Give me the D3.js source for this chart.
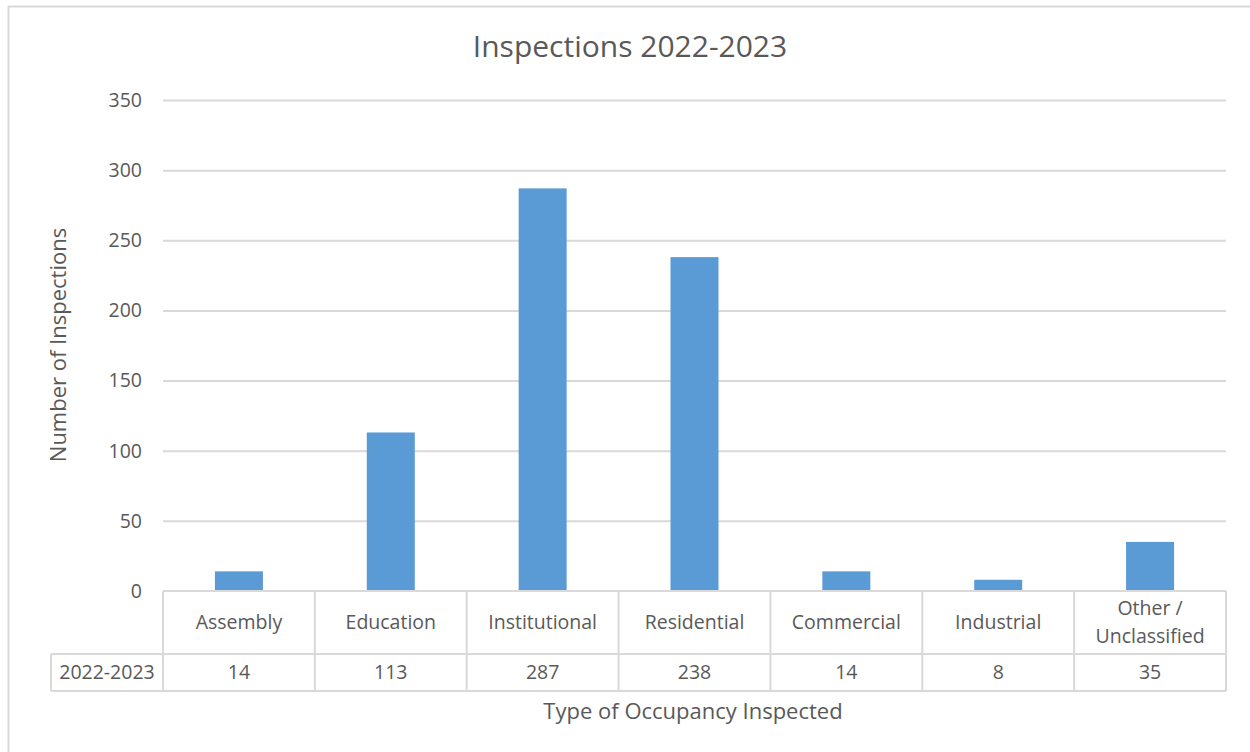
<!DOCTYPE html>
<html>
<head>
<meta charset="utf-8">
<script src="https://cdn.jsdelivr.net/npm/d3@7"></script>
<style>
  body { margin: 0; background: #fff; }
  text { font-family: "Open Sans", Lato, sans-serif; fill: #595959; }
</style>
</head>
<body>
<svg id="chart" width="1250" height="752"></svg>
<script>
// Chart data
var categories = ['Assembly', 'Education', 'Institutional', 'Residential', 'Commercial', 'Industrial', 'Other / Unclassified'];
var values = [14, 113, 287, 238, 14, 8, 35];
var seriesName = '2022-2023';
var yTicks = [0, 50, 100, 150, 200, 250, 300, 350];

var svg = d3.select('#chart');

// outer chart border
svg.append('rect')
    .attr('x', 8.5).attr('y', 6.5)
    .attr('width', 1260).attr('height', 760)
    .attr('fill', 'none')
    .attr('stroke', '#d9d9d9')
    .attr('stroke-width', 2);

var plot = {l: 163, r: 1226, t: 100, b: 591};

var x = d3.scaleBand()
    .domain(categories)
    .range([plot.l, plot.r]);

var y = d3.scaleLinear()
    .domain([0, 350])
    .range([plot.b, plot.t]);

// gridlines
svg.append('g')
    .selectAll('line')
    .data(yTicks.slice(1))
    .enter().append('line')
    .attr('x1', plot.l).attr('x2', plot.r)
    .attr('y1', function(d) { return y(d) + 0.5; })
    .attr('y2', function(d) { return y(d) + 0.5; })
    .attr('stroke', '#d9d9d9')
    .attr('stroke-width', 2);

// y axis tick labels
svg.append('g')
    .selectAll('text')
    .data(yTicks)
    .enter().append('text')
    .attr('x', 142)
    .attr('y', function(d) { return y(d); })
    .attr('dy', '0.35em')
    .attr('text-anchor', 'end')
    .style('font-size', '19.5px')
    .text(function(d) { return d; });

// bars
var barWidth = 48;
svg.append('g')
    .selectAll('rect')
    .data(values)
    .enter().append('rect')
    .attr('x', function(d, i) { return x(categories[i]) + x.bandwidth() / 2 - barWidth / 2; })
    .attr('y', function(d) { return y(d); })
    .attr('width', barWidth)
    .attr('height', function(d) { return y(0) - y(d); })
    .attr('fill', '#5b9bd5');

// data table
var rowTop = plot.b, rowMid = 654, rowBot = 691, labelLeft = 51;
var table = svg.append('g')
    .attr('stroke', '#d9d9d9')
    .attr('stroke-width', 2)
    .attr('fill', 'none');

table.append('line').attr('x1', plot.l).attr('x2', plot.r).attr('y1', rowTop).attr('y2', rowTop);
table.append('line').attr('x1', labelLeft).attr('x2', plot.r).attr('y1', rowMid).attr('y2', rowMid);
table.append('line').attr('x1', labelLeft).attr('x2', plot.r).attr('y1', rowBot).attr('y2', rowBot);
table.append('line').attr('x1', labelLeft).attr('x2', labelLeft).attr('y1', rowMid).attr('y2', rowBot);

var bounds = categories.map(function(c) { return x(c); }).concat([plot.r]);
table.selectAll('.vline')
    .data(bounds)
    .enter().append('line')
    .attr('class', 'vline')
    .attr('x1', function(d) { return d; }).attr('x2', function(d) { return d; })
    .attr('y1', rowTop).attr('y2', rowBot);

// category labels (wrap on " / ")
var catLabels = svg.append('g')
    .selectAll('text')
    .data(categories)
    .enter().append('text')
    .attr('x', function(d) { return x(d) + x.bandwidth() / 2; })
    .attr('text-anchor', 'middle')
    .style('font-size', '19.5px');

catLabels.each(function(d) {
    var parts = d.indexOf(' / ') >= 0 ? [d.split(' / ')[0] + ' /', d.split(' / ')[1]] : [d];
    var t = d3.select(this);
    var cx = x(d) + x.bandwidth() / 2;
    var mid = (rowTop + rowMid) / 2;
    parts.forEach(function(p, k) {
        t.append('tspan')
            .attr('x', cx)
            .attr('y', mid + (k - (parts.length - 1) / 2) * 28)
            .attr('dy', '0.35em')
            .text(p);
    });
});

// values row
svg.append('g')
    .selectAll('text')
    .data(values)
    .enter().append('text')
    .attr('x', function(d, i) { return x(categories[i]) + x.bandwidth() / 2; })
    .attr('y', (rowMid + rowBot) / 2)
    .attr('dy', '0.35em')
    .attr('text-anchor', 'middle')
    .style('font-size', '19.5px')
    .text(function(d) { return d; });

svg.append('text')
    .attr('x', (labelLeft + plot.l) / 2)
    .attr('y', (rowMid + rowBot) / 2)
    .attr('dy', '0.35em')
    .attr('text-anchor', 'middle')
    .style('font-size', '19.5px')
    .text(seriesName);

// title
svg.append('text')
    .attr('x', 630).attr('y', 46)
    .attr('dy', '0.35em')
    .attr('text-anchor', 'middle')
    .style('font-size', '30px')
    .text('Inspections 2022-2023');

// axis titles
svg.append('text')
    .attr('x', 693).attr('y', 711)
    .attr('dy', '0.35em')
    .attr('text-anchor', 'middle')
    .style('font-size', '22px')
    .text('Type of Occupancy Inspected');

svg.append('text')
    .attr('transform', 'translate(58,345) rotate(-90)')
    .attr('dy', '0.35em')
    .attr('text-anchor', 'middle')
    .style('font-size', '22px')
    .text('Number of Inspections');
</script>
</body>
</html>
